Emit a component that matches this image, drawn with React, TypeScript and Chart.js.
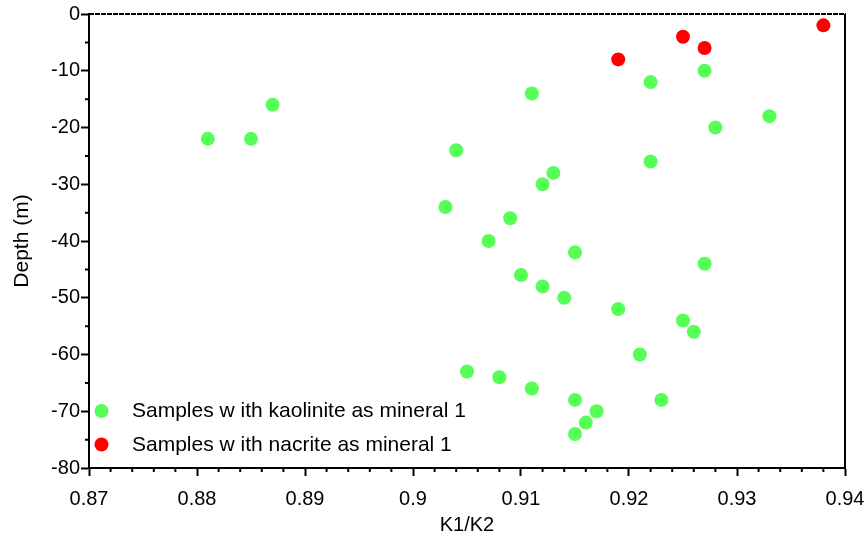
import React, { useEffect, useRef } from "react";
import { Chart, registerables } from "chart.js";

Chart.register(...registerables);

const kaoliniteK1K2 = [
  0.881, 0.885, 0.887, 0.911, 0.922, 0.927, 0.933, 0.928, 0.922, 0.913, 0.912,
  0.904, 0.903, 0.909, 0.907, 0.915, 0.927, 0.910, 0.912, 0.914, 0.919, 0.925,
  0.926, 0.921, 0.905, 0.908, 0.911, 0.915, 0.923, 0.917, 0.916, 0.915,
];
const kaoliniteDepth = [
  -22, -22, -16, -14, -12, -10, -18, -20, -26, -28, -30,
  -24, -34, -36, -40, -42, -44, -46, -48, -50, -52, -54,
  -56, -60, -63, -64, -66, -68, -68, -70, -72, -74,
];
const nacriteK1K2 = [0.919, 0.925, 0.927, 0.938];
const nacriteDepth = [-8, -4, -6, -2];

const seriesLabels = [
  "Samples w ith kaolinite as mineral 1",
  "Samples w ith nacrite as mineral 1",
];
const seriesColors = ["#55FF55", "#FF0000"];

const xMin = 0.87;
const xMax = 0.94;
const xMinorStep = 0.002;
const yMin = -80;
const yMax = 0;
const yMinorStep = 5;
const xTitle = "K1/K2";
const yTitle = "Depth (m)";

const FONT = "Arial, 'Liberation Sans', sans-serif";

const isXMajor = (v: number) => Math.abs(v * 100 - Math.round(v * 100)) < 1e-6;
const isYMajor = (v: number) => Math.abs(v % 10) < 1e-6;

const minorTicksPlugin = {
  id: "minorTicks",
  afterDraw(chart: any) {
    const { ctx, chartArea } = chart;
    const xs = chart.scales.x;
    const ys = chart.scales.y;
    ctx.save();
    ctx.strokeStyle = "#000";
    ctx.lineWidth = 2;
    ctx.beginPath();
    xs.ticks.forEach((t: any) => {
      if (!isXMajor(t.value)) {
        const px = xs.getPixelForValue(t.value);
        ctx.moveTo(px, chartArea.bottom);
        ctx.lineTo(px, chartArea.bottom + 4);
      }
    });
    ys.ticks.forEach((t: any) => {
      if (!isYMajor(t.value)) {
        const py = ys.getPixelForValue(t.value);
        ctx.moveTo(chartArea.left, py);
        ctx.lineTo(chartArea.left - 4, py);
      }
    });
    ctx.stroke();
    // top frame (dashed) and right frame
    ctx.beginPath();
    ctx.setLineDash([5, 1]);
    ctx.moveTo(chartArea.left, chartArea.top);
    ctx.lineTo(chartArea.right + 1, chartArea.top);
    ctx.stroke();
    ctx.setLineDash([]);
    ctx.beginPath();
    ctx.moveTo(chartArea.right, chartArea.top);
    ctx.lineTo(chartArea.right, chartArea.bottom);
    ctx.stroke();

    // legend inside plot
    const ds = chart.data.datasets;
    ctx.font = `21px ${FONT}`;
    ctx.textBaseline = "middle";
    ctx.textAlign = "left";
    ds.forEach((d: any, i: number) => {
      const cy = chartArea.bottom - 57 + i * 33.5;
      const cx = chartArea.left + 12.5;
      ctx.beginPath();
      ctx.fillStyle = d.backgroundColor;
      ctx.arc(cx, cy, 7, 0, Math.PI * 2);
      ctx.fill();
      ctx.fillStyle = "#000";
      ctx.fillText(d.label, chartArea.left + 43, cy + 0.5);
    });
    ctx.restore();
  },
};

export default function App() {
  const ref = useRef<HTMLCanvasElement | null>(null);
  useEffect(() => {
    if (!ref.current) return;
    const toPts = (xs: number[], ys: number[]) => xs.map((x, i) => ({ x, y: ys[i] }));
    const chart = new Chart(ref.current, {
      type: "scatter",
      data: {
        datasets: [
          {
            label: seriesLabels[0],
            data: toPts(kaoliniteK1K2, kaoliniteDepth),
            backgroundColor: seriesColors[0],
            borderWidth: 0,
            pointRadius: 7,
          },
          {
            label: seriesLabels[1],
            data: toPts(nacriteK1K2, nacriteDepth),
            backgroundColor: seriesColors[1],
            borderWidth: 0,
            pointRadius: 7,
          },
        ],
      },
      options: {
        responsive: false,
        animation: false,
        layout: { padding: { left: 0, top: 14, right: 23, bottom: 0 } },
        plugins: {
          legend: { display: false },
          tooltip: { enabled: false },
        },
        scales: {
          x: {
            type: "linear",
            min: xMin,
            max: xMax,
            afterFit: (s: any) => {
              s.height = 69;
              s.paddingLeft = 0;
              s.paddingRight = 0;
            },
            border: { display: true, color: "#000", width: 2 },
            grid: {
              drawOnChartArea: false,
              drawTicks: true,
              tickLength: 8,
              tickWidth: 2,
              tickColor: (c: any) => (c.tick && isXMajor(c.tick.value) ? "#000" : "rgba(0,0,0,0)"),
            },
            ticks: {
              stepSize: xMinorStep,
              maxTicksLimit: 100,
              autoSkip: false,
              maxRotation: 0,
              padding: 11,
              color: "#000",
              font: { family: FONT, size: 20 },
              callback: (v: any) => (isXMajor(Number(v)) ? String(Math.round(Number(v) * 100) / 100) : ""),
            },
            title: {
              display: true,
              text: xTitle,
              color: "#000",
              font: { family: FONT, size: 20 },
              padding: { top: 0, bottom: 0 },
            },
          },
          y: {
            type: "linear",
            min: yMin,
            max: yMax,
            afterFit: (s: any) => {
              s.width = 89;
              s.paddingTop = 0;
              s.paddingBottom = 0;
            },
            border: { display: true, color: "#000", width: 2 },
            grid: {
              drawOnChartArea: false,
              drawTicks: true,
              tickLength: 8,
              tickWidth: 2,
              tickColor: (c: any) => (c.tick && isYMajor(c.tick.value) ? "#000" : "rgba(0,0,0,0)"),
            },
            ticks: {
              stepSize: yMinorStep,
              maxTicksLimit: 100,
              autoSkip: false,
              padding: 1,
              color: "#000",
              font: { family: FONT, size: 20 },
              callback: (v: any) => (isYMajor(Number(v)) ? String(v) : ""),
            },
            title: {
              display: true,
              text: yTitle,
              color: "#000",
              font: { family: FONT, size: 21 },
              padding: { top: 10, bottom: 0 },
            },
          },
        },
      },
      plugins: [minorTicksPlugin],
    });
    return () => chart.destroy();
  }, []);
  return (
    <div style={{ position: "fixed", left: 0, top: 0, width: 868, height: 537, background: "#fff" }}>
      <canvas ref={ref} width={868} height={537} />
    </div>
  );
}
